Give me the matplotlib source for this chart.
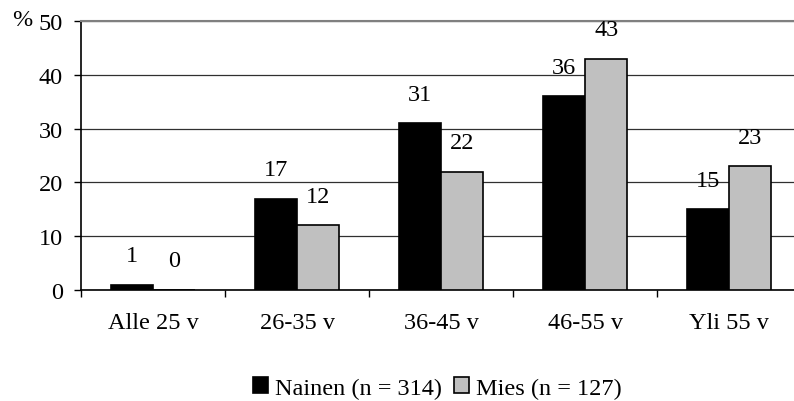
import numpy as np
import matplotlib.pyplot as plt

categories = ['Alle 25 v', '26-35 v', '36-45 v', '46-55 v', 'Yli 55 v']
nainen = [1, 17, 31, 36, 15]
mies = [0, 12, 22, 43, 23]
labels = ['Nainen (n = 314)', 'Mies (n = 127)']

plt.rcParams['font.family'] = ['Liberation Serif', 'DejaVu Serif']
plt.rcParams['font.size'] = 17.5

fig = plt.figure(figsize=(7.94, 4.02), dpi=100)
# axes run a little past the right edge, as in the original
ax = fig.add_axes([81 / 794, 1 - 291 / 402, 720 / 794, (291 - 22) / 402])

x = np.arange(len(categories))
w = 0.295
ax.bar(x - w / 2, nainen, w, color='black', edgecolor='black', linewidth=1.2, label=labels[0], zorder=3)
ax.bar(x + w / 2, mies, w, color='#c0c0c0', edgecolor='black', linewidth=1.2, label=labels[1], zorder=3)

# value labels above bars
for xi, v in zip(x, nainen):
    ax.text(xi - w / 2, v + 5.4, str(v), ha='center', va='center')
for xi, v in zip(x, mies):
    ax.text(xi + w / 2, v + 5.4, str(v), ha='center', va='center')

ax.set_xlim(-0.5, len(categories) - 0.5)
ax.set_ylim(0, 50)
ax.set_yticks(range(0, 51, 10))
ax.yaxis.grid(True, color='#303030', linewidth=0.9, zorder=0)
ax.set_xticks(x)
ax.set_xticklabels(categories)
ax.set_xticks(np.arange(-0.5, len(categories), 1), minor=True)
ax.tick_params(axis='x', which='major', length=0, pad=16)
ax.tick_params(axis='x', which='minor', length=5, width=1)
ax.tick_params(axis='y', length=5, width=1, pad=8)

ax.spines['right'].set_visible(False)
ax.spines['top'].set_color('#808080')
ax.spines['top'].set_linewidth(1.5)
ax.spines['left'].set_linewidth(1.2)
ax.spines['bottom'].set_linewidth(1.2)

fig.text(12 / 794, 1 - 21 / 402, '%', ha='left', va='center')

ax.legend(loc='center', bbox_to_anchor=(0.495, -0.364), ncol=2, frameon=False,
          handlelength=0.62, handleheight=0.62, handletextpad=0.3, columnspacing=0.5,
          borderaxespad=0, borderpad=0)

fig.savefig('out.png', dpi=100)
